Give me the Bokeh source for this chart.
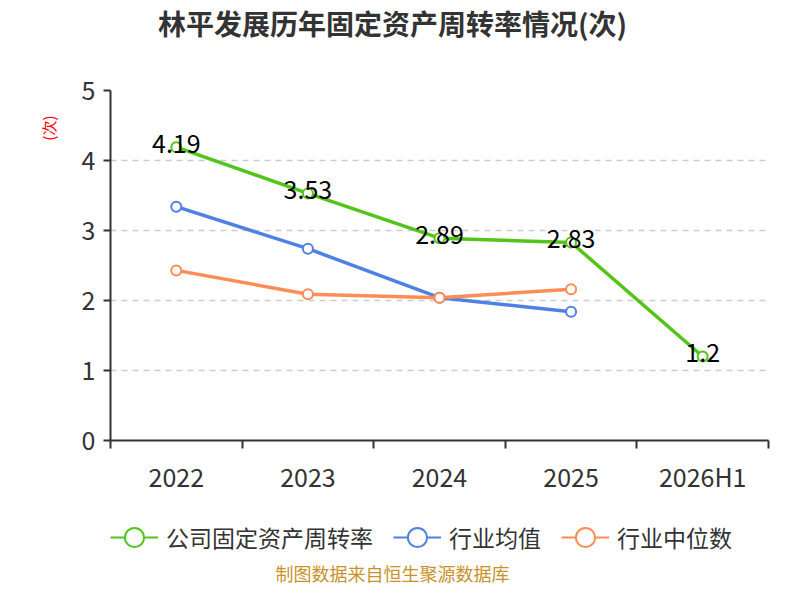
import math
from bokeh.plotting import figure
from bokeh.layouts import column
from bokeh.models import (ColumnDataSource, FixedTicker, Legend, LegendItem, Label, Range1d, Title)
from bokeh.embed import file_html
from bokeh.resources import INLINE
from bokeh.core.properties import value

categories = ["2022", "2023", "2024", "2025", "2026H1"]
company = [4.19, 3.53, 2.89, 2.83, 1.2]
industry_avg = [3.34, 2.74, 2.04, 1.84]
industry_median = [2.43, 2.09, 2.04, 2.16]
y_ticks = [0, 1, 2, 3, 4, 5]

FONT = "Noto Sans CJK SC"
GREEN = "#52c41a"
BLUE = "#4f81e3"
ORANGE = "#ff8c55"
NAN = float("nan")

xs = [i + 0.5 for i in range(len(categories))]


def strip(h):
    f = figure(width=784, height=h, output_backend="svg", toolbar_location=None,
               x_range=Range1d(0, 1), y_range=Range1d(0, 1),
               min_border_left=0, min_border_right=0,
               min_border_top=0, min_border_bottom=0)
    f.axis.visible = False
    f.grid.visible = False
    f.outline_line_color = None
    return f


# title strip (its frame is aligned with the main plot's frame, left edge at x=110)
t = strip(45)
t.add_layout(Label(x=282, y=23, x_units="screen", y_units="screen",
                   text="林平发展历年固定资产周转率情况(次)", text_font=FONT,
                   text_font_size="28px", text_font_style="bold", text_color="#333333",
                   text_align="center", text_baseline="middle"))

p = figure(width=784, height=455, output_backend="svg", toolbar_location=None,
           x_range=Range1d(0, len(categories)), y_range=Range1d(0, 5),
           min_border_left=110, min_border_right=16, min_border_top=45,
           min_border_bottom=60)
p.outline_line_color = None
p.title.visible = False

# axes
p.xaxis.ticker = FixedTicker(ticks=xs, minor_ticks=list(range(len(categories) + 1)))
p.xaxis.major_label_overrides = {x: c for x, c in zip(xs, categories)}
p.xaxis.major_tick_line_color = None
p.xaxis.major_tick_out = 0
p.xaxis.major_tick_in = 0
p.xaxis.minor_tick_line_color = "#333333"
p.xaxis.minor_tick_out = 8
p.xaxis.minor_tick_in = 0
p.xaxis.minor_tick_line_width = 2
p.xaxis.axis_line_color = "#333333"
p.xaxis.axis_line_width = 2
p.xaxis.major_label_text_font = FONT
p.xaxis.major_label_text_font_size = "25px"
p.xaxis.major_label_text_color = "#333333"
p.xaxis.major_label_standoff = 9

p.yaxis.ticker = FixedTicker(ticks=y_ticks)
p.yaxis.minor_tick_line_color = None
p.yaxis.major_tick_out = 7
p.yaxis.major_tick_in = 0
p.yaxis.major_tick_line_width = 2
p.yaxis.major_tick_line_color = "#333333"
p.yaxis.axis_line_color = "#333333"
p.yaxis.axis_line_width = 2
p.yaxis.major_label_text_font = FONT
p.yaxis.major_label_text_font_size = "25px"
p.yaxis.major_label_text_color = "#333333"
p.yaxis.major_label_standoff = 8

p.xgrid.grid_line_color = None
p.ygrid.grid_line_color = "#cccccc"
p.ygrid.grid_line_dash = "6 5"
p.ygrid.grid_line_width = 1.5

p.add_layout(Title(text="(次)", text_color="red", text_font=FONT, text_font_size="15px",
                   text_font_style="normal", align="right", offset=25, standoff=40), "left")

series = [
    ("公司固定资产周转率", company, GREEN),
    ("行业均值", industry_avg, BLUE),
    ("行业中位数", industry_median, ORANGE),
]

# legend / footer strip
q = strip(84)

items = []
for name, vals, col in series:
    src = ColumnDataSource(dict(x=xs[:len(vals)], y=vals))
    p.line("x", "y", source=src, line_color=col, line_width=3.5)
    p.scatter("x", "y", source=src, size=10, marker="circle", fill_color="white",
              line_color=col, line_width=2)
    lr = q.line(x=[NAN], y=[NAN], line_color=col, line_width=2)
    sr = q.scatter(x=[NAN], y=[NAN], size=20, marker="circle", fill_color="white",
                   line_color=col, line_width=2)
    items.append(LegendItem(label=name, renderers=[lr, sr]))

lab_src = ColumnDataSource(dict(x=xs, y=company, t=[f"{v:g}" for v in company]))
p.text("x", "y", text="t", source=lab_src, text_align="center", text_baseline="middle",
       text_font=value(FONT), text_font_size="25px", text_color="black", y_offset=-4)

legend = Legend(items=items, orientation="horizontal", location=(0, 22),
                label_text_font=FONT, label_text_font_size="23px",
                label_text_color="#333333", glyph_width=48, glyph_height=50,
                border_line_color=None, background_fill_alpha=0, spacing=20,
                label_standoff=8, padding=0, margin=0)
q.add_layout(legend, "center")

q.add_layout(Label(x=282, y=12, x_units="screen", y_units="screen",
                   text="制图数据来自恒生聚源数据库", text_font=FONT,
                   text_font_size="18px", text_color="#c8922a",
                   text_align="center", text_baseline="middle"))

layout = column(t, p, q, spacing=0)
open("out.html", "w").write(file_html(layout, INLINE))
